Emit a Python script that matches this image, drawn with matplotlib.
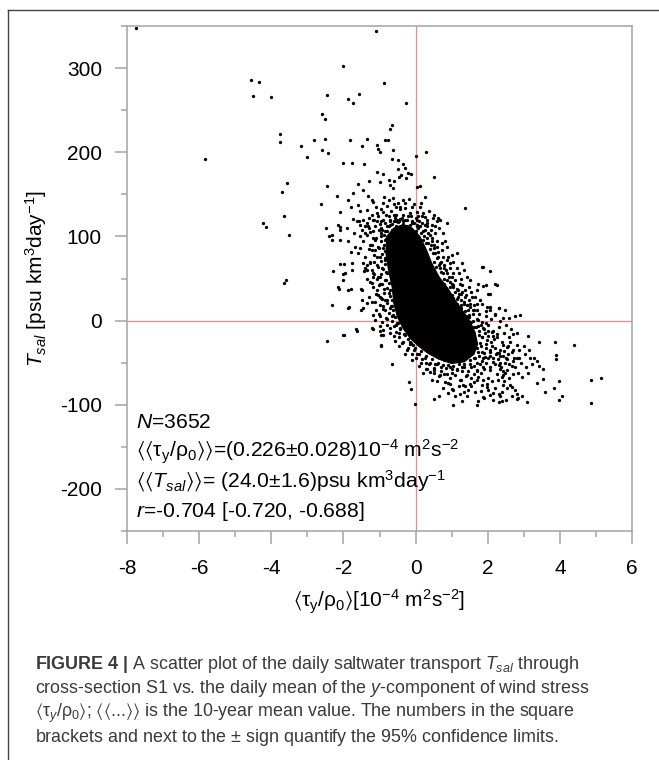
import numpy as np
import matplotlib
matplotlib.use("Agg")
import matplotlib.pyplot as plt
from matplotlib.lines import Line2D
from matplotlib.ticker import MultipleLocator

plt.rcParams['font.family'] = ['Liberation Sans', 'DejaVu Sans']
plt.rcParams['mathtext.fontset'] = 'custom'
plt.rcParams['mathtext.rm'] = 'Liberation Sans'
plt.rcParams['mathtext.it'] = 'Liberation Sans:italic'
plt.rcParams['mathtext.bf'] = 'Liberation Sans:bold'
plt.rcParams['mathtext.fallback'] = 'stixsans'
plt.rcParams['axes.unicode_minus'] = False

# saturated core of the cloud (outline)
core_x = [-0.80, -0.60, -0.35, -0.10, 0.12, 0.30, 0.45, 0.65, 0.90, 1.10, 1.30, 1.50, 1.65, 1.72,
          1.62, 1.35, 1.00, 0.65, 0.35, 0.10, -0.15, -0.35, -0.50, -0.60, -0.65, -0.75, -0.82]
core_y = [100, 110, 114, 110, 100, 84, 68, 52, 38, 24, 12, 0, -14, -28,
          -40, -49, -51, -46, -39, -31, -21, -9, 4, 20, 40, 60, 80]

# sparse points, upper left
upper_pts = [(-7.74, 348), (-4.57, 286), (-4.35, 284), (-4.50, 267), (-4.01, 266), (-2.45, 268),
             (-2.60, 246), (-2.50, 239), (-3.76, 222), (-3.76, 212), (-2.82, 215), (-2.51, 216),
             (-3.18, 208), (-2.60, 203), (-2.44, 199), (-3.02, 194), (-5.84, 192), (-3.56, 163),
             (-3.69, 153), (-2.45, 160), (-2.63, 138), (-3.64, 124), (-4.23, 116), (-4.16, 111),
             (-2.49, 110), (-3.52, 102), (-2.39, 100), (-3.60, 48), (-3.66, 45), (-2.45, -24),
             (-1.09, 344), (-2.00, 302), (-0.87, 282), (-1.87, 263), (-1.74, 259), (-1.57, 269),
             (-0.27, 259), (-0.66, 232), (-0.72, 228), (-1.83, 215), (-1.34, 216), (-1.48, 208),
             (-1.06, 209), (-0.99, 200), (-1.03, 204), (-0.85, 214), (-0.77, 215), (-0.63, 203),
             (-2.00, 187), (-1.75, 187), (-1.42, 186), (-0.66, 192), (0.01, 195), (0.28, 200),
             (-0.48, 191), (-0.36, 186), (-0.28, 181), (-1.06, 177), (-0.89, 174), (-0.48, 180),
             (-0.40, 173), (-0.47, 171), (-0.27, 169), (-0.20, 175), (-0.12, 174), (0.51, 171),
             (-1.28, 166), (-1.00, 165), (-0.74, 167), (-0.60, 166), (-0.72, 161), (-0.63, 157),
             (-1.60, 162), (-1.73, 152), (-1.47, 155), (-2.19, 148), (-1.31, 148), (-1.17, 141),
             (-1.22, 143), (-1.86, 143), (-1.59, 137), (-1.79, 135), (-2.09, 129), (-0.87, 147),
             (-0.74, 143), (-0.63, 146), (-0.34, 143), (-0.55, 135), (-0.43, 135), (0.03, 159),
             (0.11, 160), (0.26, 147), (-0.09, 135), (0.12, 135), (1.36, 134), (-1.35, 131),
             (-1.06, 128), (-0.89, 129), (-1.54, 130), (-1.74, 121), (-1.63, 118), (-1.45, 120),
             (-1.28, 122), (-1.91, 110), (-2.09, 108), (-0.94, 108), (-0.75, 112), (-0.52, 120),
             (-0.43, 121), (-0.34, 118), (-0.25, 112), (-0.15, 114), (0.03, 114), (0.12, 112),
             (0.31, 112), (0.45, 114), (0.59, 118), (0.63, 122), (0.26, 123), (0.08, 124),
             (-0.72, 120), (-0.61, 118), (-0.84, 116), (-1.08, 118), (-1.17, 120), (-1.35, 116),
             (-1.40, 112), (-1.54, 114), (-1.58, 118)]

# band just above the core
band_pts = [(-1.22, 126), (-1.05, 124), (-0.95, 132), (-0.82, 126), (-0.68, 130), (-0.55, 126),
            (-0.42, 132), (-0.28, 134), (-0.12, 124), (0.02, 122), (0.18, 116), (0.32, 120),
            (0.42, 108), (0.55, 104), (-0.78, 136), (-0.60, 138), (-0.30, 140), (-0.05, 138),
            (0.15, 140), (0.38, 130), (-1.12, 112), (-1.02, 108), (-0.88, 102), (-0.75, 124),
            (-0.38, 122), (-0.20, 124), (-0.58, 122), (0.05, 120), (-0.95, 118), (-1.30, 110),
            (-1.40, 104), (-1.18, 98), (-0.65, 115), (0.25, 114), (-0.48, 140), (-0.18, 145),
            (0.50, 126), (-0.90, 140), (-1.10, 135), (0.65, 110), (-0.85, 106), (-0.70, 113),
            (-0.50, 117), (-0.30, 119), (-0.10, 116), (0.08, 110), (0.22, 100), (0.35, 92),
            (-0.95, 100)]

# left side of the cloud
left_pts = [(-2.31, 102), (-2.14, 113), (-2.09, 111), (-2.28, 59), (-2.01, 55), (-2.11, 38),
            (-1.77, 60), (-2.31, 18), (-1.86, 15), (-1.52, 13), (-1.98, -17), (-1.65, -10),
            (-1.21, -9), (-1.79, 37), (-1.49, 36), (-1.43, 59), (-1.99, 67), (-1.77, 68),
            (-1.26, 68), (-2.32, 96), (-2.09, 96), (-1.86, 94), (-1.68, 88), (-1.79, 82),
            (-1.54, 86), (-1.59, 80), (-1.40, 76), (-1.72, 104), (-1.54, 100), (-1.35, 102),
            (-1.49, 108), (-1.31, 112), (-1.17, 106), (-1.26, 90), (-1.12, 84), (-1.35, 66),
            (-1.17, 56), (-1.03, 52), (-1.26, 46), (-1.08, 36), (-0.99, 28), (-1.12, 22),
            (-0.89, 17), (-1.35, 21), (-1.49, 24), (-2.09, 67), (-1.95, 56), (-2.14, 40),
            (-1.84, 16), (-1.18, 7), (-1.12, 1), (-0.97, -17), (-0.96, -29), (-1.45, 15),
            (-1.87, 36), (-1.52, 38), (-2.00, 48), (-1.45, 68), (-1.35, 60), (-1.17, 52),
            (-0.98, 43), (-0.75, 33), (-0.85, 25), (-0.66, 17), (-0.62, 7), (-0.52, -3),
            (-0.43, -9), (-0.29, -17), (-0.15, -25), (-0.34, -25), (-0.06, -29), (-0.98, -7),
            (-0.89, -11), (-1.25, 105), (-1.10, 98), (-0.95, 104), (-0.85, 96), (-1.20, 90),
            (-1.05, 88), (-0.90, 86), (-1.15, 78), (-0.98, 76), (-0.85, 72), (-1.25, 70),
            (-1.08, 66), (-0.92, 63), (-0.82, 58), (-1.15, 55), (-0.98, 52), (-0.85, 48),
            (-1.20, 45), (-1.02, 42), (-0.88, 38), (-1.10, 32), (-0.95, 27), (-0.80, 24),
            (-1.20, 22), (-0.70, 15), (-0.85, 12), (-1.02, 8), (-0.65, 6), (-0.78, 2),
            (-0.92, -2), (-0.55, -5), (-0.70, -9), (-0.45, -15), (-0.60, -18), (-1.10, 12),
            (-1.30, 28), (-1.35, 50), (-1.40, 62), (-1.30, 85), (-1.45, 95), (-1.00, 115),
            (-0.80, 112), (-0.65, 108), (-0.90, 120), (-0.55, 112), (-0.70, 118), (-1.15, 120)]

# top and right edge of the core
top_pts = [(-0.60, 104), (-0.40, 106), (-0.25, 104), (-0.10, 102), (0.05, 100), (0.20, 96),
           (-0.50, 110), (-0.30, 112), (-0.15, 109), (0.00, 107), (0.15, 104), (-0.45, 118),
           (-0.25, 120), (-0.05, 116), (0.10, 118), (0.25, 108), (-0.35, 126), (-0.15, 128),
           (0.20, 128), (-0.60, 125), (0.35, 104), (0.30, 92), (0.45, 98), (0.40, 85),
           (0.55, 80), (0.50, 70), (0.65, 66), (0.60, 88), (0.75, 75), (0.70, 58), (0.85, 60),
           (0.80, 50), (0.95, 46), (1.05, 42), (1.00, 30), (1.20, 32), (1.15, 26), (1.25, 18),
           (1.35, 22), (1.45, 12), (1.40, 5), (1.60, 8), (1.55, -2), (0.45, 94), (0.52, 86),
           (0.62, 82), (0.70, 70), (0.78, 66), (0.88, 72), (0.68, 62), (0.58, 64), (0.95, 62),
           (1.02, 52), (0.88, 56), (0.80, 44), (0.95, 40), (1.10, 48), (1.18, 36), (1.08, 34),
           (1.30, 42), (1.25, 50), (1.40, 30), (1.48, 24), (1.55, 34), (1.65, 28), (1.42, 18),
           (1.58, 12), (1.70, 20), (0.50, 90), (0.72, 84), (1.05, 70), (0.82, 94), (1.20, 56)]

# first ring just outside the core outline
ring1_pts = [(-0.83, 97), (-0.97, 94), (-0.88, 90), (-1.02, 86), (-0.86, 83), (-0.93, 79),
             (-1.08, 76), (-0.84, 74), (-0.97, 71), (-0.86, 67), (-1.03, 64), (-0.90, 61),
             (-0.80, 57), (-0.95, 55), (-1.06, 50), (-0.83, 48), (-0.74, 45), (-0.92, 43),
             (-0.79, 39), (-0.70, 36), (-0.88, 33), (-0.72, 29), (-0.94, 26), (-0.66, 24),
             (-0.80, 21), (-0.69, 17), (-0.90, 14), (-0.62, 12), (-0.74, 9), (-0.58, 4),
             (-0.83, 3), (-0.66, 0), (-0.50, -3), (-0.61, -6), (-0.42, -10), (-0.55, -13),
             (-0.33, -16), (-0.47, -20), (-0.22, -22), (-0.38, -27), (-0.12, -27), (-0.02, -33),
             (-0.20, -32), (0.15, -36), (0.05, -40), (0.28, -42), (0.18, -46), (0.45, -46),
             (0.38, -51), (0.62, -50), (0.75, -53), (0.90, -53), (1.05, -54), (1.20, -52),
             (1.35, -52), (1.50, -47), (1.62, -44), (1.72, -37), (1.78, -27), (1.76, -17),
             (1.68, -8), (1.60, 0), (1.48, 4), (1.38, 11), (1.25, 15), (1.15, 20), (1.05, 27),
             (0.95, 30), (0.85, 36), (0.78, 40), (0.68, 45), (0.58, 52), (0.52, 58), (0.40, 64),
             (0.38, 70), (0.28, 80), (0.20, 86), (0.12, 94), (0.00, 100), (-0.20, 103),
             (-0.45, 104), (-0.68, 101)]

# second, looser ring
ring2_pts = [(-1.12, 96), (-1.20, 84), (-1.15, 70), (-1.22, 60), (-1.18, 40), (-1.05, 30),
             (-1.00, 18), (-0.98, 6), (-0.80, -5), (-0.72, -15), (-0.58, -24), (-0.45, -30),
             (-0.30, -40), (-0.10, -47), (0.10, -54), (0.30, -50), (0.50, -56), (0.70, -60),
             (1.00, -62), (1.30, -60), (1.62, -54), (1.88, -44), (1.95, -32), (1.92, -15),
             (1.85, -2), (1.75, 8), (1.62, 12), (1.50, 20), (1.38, 28), (1.30, 34), (1.15, 38),
             (1.00, 44), (0.92, 52), (0.80, 62), (0.68, 68), (0.60, 74), (0.48, 80), (0.42, 90),
             (0.32, 98), (0.20, 106), (0.05, 112), (-0.10, 118), (-0.35, 115), (-0.55, 118),
             (-0.80, 106), (-0.95, 110)]

# right side of the cloud, above zero
right_pts = [(1.88, 64), (2.05, 59), (1.88, 41), (2.05, 32), (2.25, 42), (2.30, 15), (2.48, 12),
             (1.28, 69), (1.14, 80), (1.00, 78), (0.86, 88), (0.72, 92), (0.59, 94), (0.77, 104),
             (0.40, 102), (0.54, 112), (0.31, 116), (0.17, 124), (0.03, 129), (0.49, 122),
             (0.68, 120), (0.86, 116), (1.33, 60), (1.42, 52), (1.51, 48), (1.14, 62), (0.96, 68),
             (1.05, 56), (1.23, 44), (1.37, 36), (1.56, 28), (1.70, 36), (1.79, 24), (1.97, 16),
             (2.06, 13), (1.70, 13), (1.51, 16), (1.33, 20), (1.19, 28), (1.05, 40), (0.86, 48),
             (0.77, 56), (0.91, 76), (0.62, 76), (1.49, 40), (1.73, 44), (1.96, 42), (1.26, 32),
             (1.26, 24), (1.61, 18), (1.84, 20), (2.07, 16), (2.31, 15), (1.96, 11), (2.19, 7),
             (2.42, 3), (1.96, -3), (1.73, 1), (1.49, 7), (2.89, 7), (2.19, 44), (2.00, 32),
             (1.84, 64)]

# lower right tail
tail_pts = [(-2.00, -17), (-1.63, -12), (-1.19, -10), (-0.99, -12), (-0.91, -17), (-0.96, -30),
            (-0.64, -51), (-0.18, -73), (-0.13, -81), (-0.01, -99), (0.51, -93), (0.66, -90),
            (1.05, -100), (1.28, -95), (1.42, -90), (1.70, -100), (1.74, -95), (1.88, -91),
            (2.30, -97), (2.39, -95), (2.51, -94), (2.80, -93), (2.94, -90), (3.08, -97),
            (3.38, -74), (3.54, -69), (3.59, -85), (3.84, -80), (3.97, -72), (3.97, -94),
            (4.07, -90), (4.87, -70), (5.14, -68), (4.87, -98), (4.38, -29), (3.87, -26),
            (3.89, -41), (3.89, -46), (3.41, -25), (3.11, -18), (2.69, -16), (3.54, -57),
            (3.43, -54), (3.13, -62), (3.28, -45), (3.36, -48), (3.04, -40), (2.87, -44),
            (2.94, -67), (2.85, -62), (2.62, -76), (2.66, -79), (2.76, -82), (2.80, -87),
            (2.66, -90), (2.85, -92), (2.43, -77), (2.53, -80), (2.39, -85), (2.32, -87),
            (2.16, -86), (2.07, -89), (1.90, -92), (1.98, -79), (1.98, -75), (1.84, -77),
            (1.70, -71), (1.61, -73), (1.52, -75), (1.38, -78), (1.31, -76), (1.33, -85),
            (1.24, -87), (0.96, -75), (0.82, -73), (1.00, -81), (1.22, -71), (2.16, -94),
            (2.43, -60), (2.48, -62), (2.34, -58), (2.48, -50), (2.53, -46), (2.42, -42),
            (2.66, -54), (2.69, -48), (2.80, -44)]

# lower part near the core
lower_pts = [(1.61, -8), (1.74, -6), (1.88, -9), (2.02, -12), (2.16, -18), (2.25, -16),
             (1.84, -20), (1.98, -23), (2.11, -14), (1.70, -33), (1.84, -37), (1.93, -43),
             (2.07, -37), (2.25, -39), (2.34, -35), (2.43, -29), (2.53, -31), (2.66, -37),
             (2.80, -29), (3.17, -45), (2.16, -49), (2.30, -53), (2.07, -59), (1.88, -55),
             (1.70, -59), (1.52, -51), (1.33, -55), (1.15, -59), (0.96, -55), (0.87, -63),
             (0.68, -65), (0.50, -59), (0.31, -57), (0.40, -61), (0.59, -51), (0.78, -47),
             (1.61, -63), (1.42, -65), (1.74, -67), (2.25, -63), (2.43, -65), (2.53, -59),
             (2.39, -67), (1.70, 2), (1.80, -5), (1.75, -12), (1.90, -10), (1.85, -20),
             (2.00, -18), (1.80, -30), (1.95, -28), (2.10, -25), (1.75, -42), (1.90, -38),
             (2.05, -35), (2.20, -32), (1.70, -50), (1.85, -48), (2.00, -45), (2.15, -44),
             (2.30, -38), (1.55, -55), (1.70, -60), (1.90, -58), (2.05, -55), (2.20, -52),
             (2.35, -50), (2.50, -45), (2.00, -5), (2.15, -12), (2.25, -20), (2.40, -25),
             (2.55, -30), (2.10, 2), (2.30, -8), (2.45, -15), (2.60, -20), (2.70, -35),
             (1.95, 5), (2.20, 8), (2.35, 0), (2.50, -5), (2.65, -10), (2.80, -15), (2.60, 3),
             (2.75, 5), (-0.05, -35), (0.10, -40), (0.25, -45), (0.40, -50), (0.55, -52),
             (0.70, -55), (0.85, -56), (1.00, -58), (1.15, -57), (1.30, -55), (1.45, -60),
             (0.30, -58), (0.50, -62), (0.65, -66), (0.80, -64), (0.95, -68), (1.10, -65),
             (1.25, -70), (1.40, -66), (1.55, -68), (0.60, -72), (0.90, -74), (1.20, -78),
             (0.15, -50), (-0.15, -28), (-0.25, -35), (0.00, -45), (0.45, -70), (0.75, -80),
             (1.05, -82), (0.20, -62), (-0.10, -40), (1.58, -30), (1.66, -45), (1.78, -52),
             (1.82, -62), (1.95, -50), (2.05, -42), (2.12, -30), (2.18, -22), (2.22, -40),
             (2.28, -46), (2.35, -42), (2.38, -55), (2.45, -36), (2.55, -40), (2.58, -52),
             (2.62, -25), (2.72, -45), (2.75, -55), (2.88, -35), (2.92, -50), (3.00, -30),
             (3.05, -55), (3.15, -35), (3.22, -52), (2.00, -68), (2.12, -72), (2.28, -70),
             (2.45, -72), (2.58, -68), (2.70, -64), (1.88, -70), (1.55, -78), (1.45, -82),
             (1.65, -85), (1.80, -84), (2.00, -82), (2.20, -80), (2.35, -90), (1.10, -90),
             (0.90, -86)]

stats_lines = [r'$N$=3652',
               r'$\langle\langle\mathrm{\tau}_\mathrm{y}/\mathrm{\rho}_\mathrm{0}\rangle\rangle$=(0.226$\pm$0.028)10$^{-4}$ m$^2$s$^{-2}$',
               r'$\langle\langle T_{sal}\rangle\rangle$= (24.0$\pm$1.6)psu km$^3$day$^{-1}$',
               r'$r$=-0.704 [-0.720, -0.688]']

caption_lines = [r'$\mathbf{FIGURE\ 4\ |}$ A scatter plot of the daily saltwater transport $T_{sal}$ through',
                 r'cross-section S1 vs. the daily mean of the $y$-component of wind stress',
                 r'$\langle\mathrm{\tau}_y/\mathrm{\rho}_0\rangle$; $\langle\langle$...$\rangle\rangle$ is the 10-year mean value. The numbers in the square',
                 r'brackets and next to the $\pm$ sign quantify the 95% confidence limits.']

W, H = 659, 760
fig = plt.figure(figsize=(W / 100, H / 100), dpi=100)
ax = fig.add_axes([127 / W, 1 - 531 / H, 505 / W, 505 / H])

ax.axvline(0, color='#f08a8a', lw=0.9, zorder=1)
ax.axhline(0, color='#f08a8a', lw=0.9, zorder=1)
ax.fill(core_x, core_y, color='k', lw=0.8, zorder=2)
for pts in [upper_pts, band_pts, left_pts, top_pts, ring1_pts, ring2_pts, right_pts,
            tail_pts, lower_pts]:
    arr = np.array(pts)
    ax.plot(arr[:, 0], arr[:, 1], 'o', ms=2.4, mew=0, color='k', zorder=3)

ax.set_xlim(-8, 6)
ax.set_ylim(-250, 350)
ax.xaxis.set_major_locator(MultipleLocator(2))
ax.xaxis.set_minor_locator(MultipleLocator(1))
ax.yaxis.set_major_locator(MultipleLocator(100))
ax.yaxis.set_minor_locator(MultipleLocator(50))
gray = '#a3a3a3'
for s in ax.spines.values():
    s.set_color(gray)
    s.set_linewidth(1.1)
ax.tick_params(which='major', length=9, width=1.1, color=gray, labelsize=15)
ax.tick_params(which='minor', length=4.5, width=1.1, color=gray)
ax.tick_params(axis='x', which='major', pad=11)
ax.tick_params(axis='y', which='major', pad=9)

ax.set_xlabel(r'$\langle\mathrm{\tau}_\mathrm{y}/\mathrm{\rho}_\mathrm{0}\rangle$[10$^{-4}$ m$^2$s$^{-2}$]', fontsize=15)
ax.xaxis.set_label_coords(0.5, -0.113)
ax.set_ylabel(r'$T_{sal}$ [psu km$^3$day$^{-1}$]', fontsize=15)
ax.yaxis.set_label_coords(-0.155, 0.5)

for i, line in enumerate(stats_lines):
    ax.text(136 / W, 1 - (428 + 29.7 * i) / H, line, transform=fig.transFigure,
            fontsize=15.2, va='baseline', ha='left')

for i, line in enumerate(caption_lines):
    fig.text(35 / W, 1 - (669 + 24.2 * i) / H, line, fontsize=12.9, color='#3a3a3a',
             va='baseline', ha='left')

# outer frame (left and top edge)
fig.add_artist(Line2D([8 / W, 8 / W], [0, 1 - 10 / H], color='#444444', lw=1.0))
fig.add_artist(Line2D([8 / W, 1], [1 - 10 / H, 1 - 10 / H], color='#444444', lw=1.0))

fig.savefig('out.png', dpi=100)
